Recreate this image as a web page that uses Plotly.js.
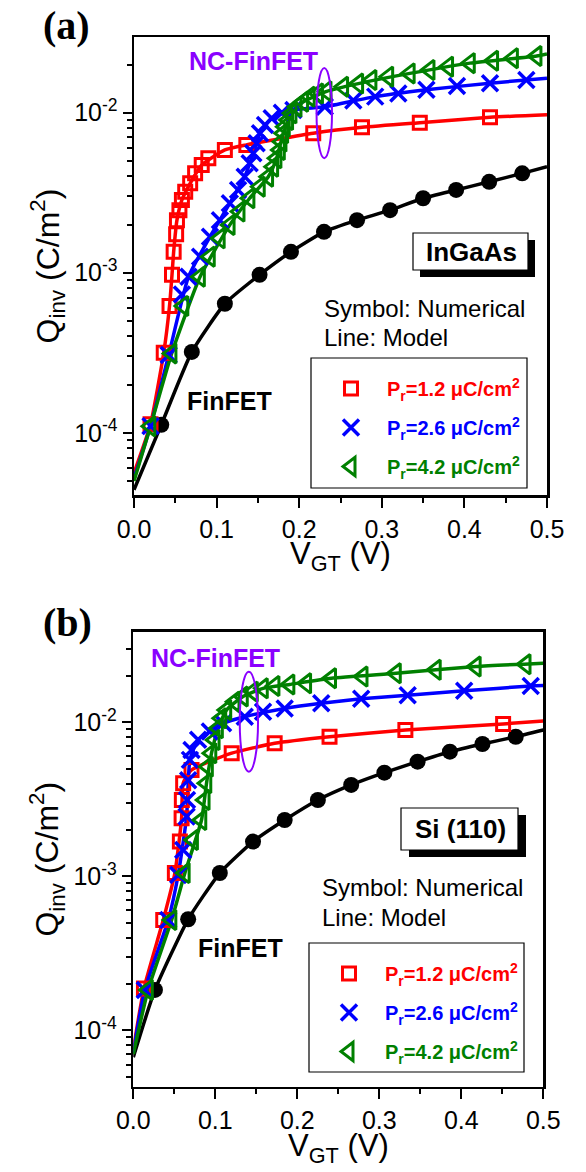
<!DOCTYPE html>
<html>
<head>
<meta charset="utf-8">
<script src="https://cdn.plot.ly/plotly-3.0.1.min.js"></script>
<style>html,body{margin:0;padding:0;background:#fff}#chart{width:586px;height:1172px}</style>
</head>
<body>
<div id="chart"></div>
<script>
// ---------------- DATA (panel a: InGaAs) ----------------
const aRedX = [0.02, 0.036, 0.043, 0.046, 0.048, 0.051, 0.052, 0.055, 0.058, 0.062, 0.068, 0.074, 0.082, 0.09, 0.11, 0.136, 0.217, 0.276, 0.346, 0.431];
const aRedY = [1.13e-4, 3.16e-4, 6.2e-4, 9.7e-4, 1.35e-3, 1.74e-3, 2.13e-3, 2.46e-3, 2.85e-3, 3.21e-3, 3.62e-3, 4.18e-3, 4.71e-3, 5.19e-3, 5.85e-3, 6.29e-3, 7.44e-3, 8.1e-3, 8.66e-3, 9.36e-3];
const aRedLineX = [0, 0.02, 0.036, 0.043, 0.046, 0.048, 0.052, 0.058, 0.068, 0.082, 0.11, 0.136, 0.217, 0.276, 0.346, 0.431, 0.5];
const aRedLineY = [5.6e-5, 1.13e-4, 3.16e-4, 6.2e-4, 9.7e-4, 1.35e-3, 2.13e-3, 2.85e-3, 3.62e-3, 4.71e-3, 5.85e-3, 6.29e-3, 7.44e-3, 8.1e-3, 8.66e-3, 9.36e-3, 9.7e-3];

const aBlueX = [0.02, 0.042, 0.058, 0.066, 0.08, 0.092, 0.104, 0.116, 0.126, 0.134, 0.14, 0.1445, 0.1485, 0.1525, 0.1586, 0.1667, 0.179, 0.193, 0.231, 0.2655, 0.292, 0.32, 0.354, 0.391, 0.431, 0.475];
const aBlueY = [1.1e-4, 3.06e-4, 7.3e-4, 9.44e-4, 1.26e-3, 1.68e-3, 2.13e-3, 2.72e-3, 3.29e-3, 3.98e-3, 4.83e-3, 5.58e-3, 6.44e-3, 7.44e-3, 8.38e-3, 9.23e-3, 1.0e-2, 1.04e-2, 1.09e-2, 1.19e-2, 1.26e-2, 1.32e-2, 1.39e-2, 1.47e-2, 1.53e-2, 1.6e-2];
const aBlueLineX = [0, 0.02, 0.042, 0.066, 0.092, 0.116, 0.134, 0.1445, 0.1525, 0.1667, 0.193, 0.231, 0.292, 0.354, 0.431, 0.5];
const aBlueLineY = [5.2e-5, 1.1e-4, 3.06e-4, 9.44e-4, 1.68e-3, 2.72e-3, 3.98e-3, 5.58e-3, 7.44e-3, 9.23e-3, 1.04e-2, 1.09e-2, 1.26e-2, 1.39e-2, 1.53e-2, 1.64e-2];

const aGreenX = [0.02, 0.0456, 0.06, 0.08, 0.092, 0.104, 0.116, 0.128, 0.14, 0.1525, 0.1626, 0.1687, 0.1727, 0.1768, 0.1788, 0.1808, 0.1828, 0.1868, 0.1909, 0.197, 0.205, 0.213, 0.223, 0.2333, 0.2534, 0.2716, 0.2877, 0.308, 0.334, 0.358, 0.3805, 0.4068, 0.435, 0.459, 0.4875];
const aGreenY = [1.1e-4, 3.13e-4, 6.2e-4, 9.44e-4, 1.26e-3, 1.64e-3, 1.99e-3, 2.41e-3, 2.92e-3, 3.45e-3, 3.98e-3, 4.6e-3, 5.19e-3, 5.85e-3, 6.59e-3, 7.44e-3, 8.18e-3, 9.0e-3, 9.91e-3, 1.09e-2, 1.17e-2, 1.26e-2, 1.32e-2, 1.36e-2, 1.45e-2, 1.52e-2, 1.6e-2, 1.68e-2, 1.76e-2, 1.85e-2, 1.94e-2, 2.04e-2, 2.11e-2, 2.19e-2, 2.26e-2];
const aGreenLineX = [0, 0.02, 0.0456, 0.08, 0.116, 0.14, 0.1626, 0.1727, 0.1808, 0.1909, 0.205, 0.2333, 0.2716, 0.334, 0.4068, 0.4875, 0.5];
const aGreenLineY = [5.0e-5, 1.1e-4, 3.13e-4, 9.44e-4, 1.99e-3, 2.92e-3, 3.98e-3, 5.19e-3, 7.44e-3, 9.91e-3, 1.17e-2, 1.36e-2, 1.52e-2, 1.76e-2, 2.04e-2, 2.26e-2, 2.33e-2];

const aBlackX = [0.033, 0.07, 0.11, 0.152, 0.19, 0.23, 0.27, 0.31, 0.35, 0.39, 0.43, 0.47];
const aBlackY = [1.12e-4, 3.2e-4, 6.4e-4, 9.7e-4, 1.35e-3, 1.8e-3, 2.13e-3, 2.46e-3, 2.92e-3, 3.29e-3, 3.7e-3, 4.18e-3];
const aBlackLineX = [0, 0.033, 0.07, 0.11, 0.152, 0.19, 0.23, 0.27, 0.31, 0.35, 0.39, 0.43, 0.47, 0.5];
const aBlackLineY = [4.4e-5, 1.12e-4, 3.2e-4, 6.4e-4, 9.7e-4, 1.35e-3, 1.8e-3, 2.13e-3, 2.46e-3, 2.92e-3, 3.29e-3, 3.7e-3, 4.18e-3, 4.6e-3];

// ---------------- DATA (panel b: Si (110)) ----------------
const bRedX = [0.013, 0.0365, 0.0507, 0.0568, 0.0589, 0.0592, 0.0608, 0.071, 0.12, 0.1724, 0.2393, 0.3318, 0.451];
const bRedY = [1.87e-4, 5.2e-4, 1.05e-3, 1.68e-3, 2.38e-3, 3.13e-3, 4.02e-3, 4.9e-3, 6.3e-3, 7.3e-3, 8.05e-3, 8.9e-3, 9.75e-3];
const bRedLineX = [0, 0.013, 0.0365, 0.0507, 0.0589, 0.0608, 0.071, 0.12, 0.1724, 0.2393, 0.3318, 0.451, 0.5];
const bRedLineY = [7.5e-5, 1.87e-4, 5.2e-4, 1.05e-3, 2.38e-3, 4.02e-3, 4.9e-3, 6.3e-3, 7.3e-3, 8.05e-3, 8.9e-3, 9.75e-3, 1.02e-2];

const bBlueX = [0.014, 0.0426, 0.0547, 0.0608, 0.065, 0.0655, 0.0669, 0.069, 0.071, 0.079, 0.0933, 0.1095, 0.1359, 0.1582, 0.1846, 0.2292, 0.2779, 0.3346, 0.4035, 0.4847];
const bBlueY = [1.83e-4, 5.2e-4, 1.02e-3, 1.48e-3, 2.44e-3, 3.13e-3, 4.2e-3, 5.7e-3, 6.6e-3, 7.7e-3, 8.7e-3, 9.86e-3, 1.087e-2, 1.17e-2, 1.23e-2, 1.33e-2, 1.42e-2, 1.5e-2, 1.6e-2, 1.72e-2];
const bBlueLineX = [0, 0.014, 0.0426, 0.0547, 0.065, 0.069, 0.079, 0.0933, 0.1095, 0.1359, 0.1846, 0.2292, 0.2779, 0.3346, 0.4035, 0.4847, 0.5];
const bBlueLineY = [7.2e-5, 1.83e-4, 5.2e-4, 1.02e-3, 2.44e-3, 5.7e-3, 7.7e-3, 8.7e-3, 9.86e-3, 1.087e-2, 1.23e-2, 1.33e-2, 1.42e-2, 1.5e-2, 1.6e-2, 1.72e-2, 1.73e-2];

const bGreenX = [0.018, 0.0467, 0.0629, 0.073, 0.0832, 0.0872, 0.0893, 0.0912, 0.0954, 0.0994, 0.1034, 0.1075, 0.1136, 0.1237, 0.1338, 0.146, 0.1582, 0.1724, 0.1906, 0.211, 0.2414, 0.2798, 0.3204, 0.3691, 0.4178, 0.4786];
const bGreenY = [1.83e-4, 5.2e-4, 1.05e-3, 1.72e-3, 2.32e-3, 3.13e-3, 4.02e-3, 5.15e-3, 6.3e-3, 7.68e-3, 9.14e-3, 1.06e-2, 1.2e-2, 1.36e-2, 1.47e-2, 1.58e-2, 1.66e-2, 1.72e-2, 1.76e-2, 1.79e-2, 1.93e-2, 1.98e-2, 2.08e-2, 2.19e-2, 2.3e-2, 2.38e-2];
const bGreenLineX = [0, 0.018, 0.0467, 0.0629, 0.0832, 0.0893, 0.0954, 0.1034, 0.1136, 0.1338, 0.1582, 0.1906, 0.2414, 0.3204, 0.4178, 0.5];
const bGreenLineY = [7.0e-5, 1.83e-4, 5.2e-4, 1.05e-3, 2.32e-3, 4.02e-3, 6.3e-3, 9.14e-3, 1.2e-2, 1.47e-2, 1.66e-2, 1.76e-2, 1.93e-2, 2.08e-2, 2.3e-2, 2.42e-2];

const bBlackX = [0.0264, 0.0669, 0.1055, 0.146, 0.1846, 0.2251, 0.2657, 0.3062, 0.3467, 0.3861, 0.4258, 0.4664];
const bBlackY = [1.83e-4, 5.26e-4, 1.05e-3, 1.68e-3, 2.32e-3, 3.13e-3, 3.92e-3, 4.71e-3, 5.55e-3, 6.44e-3, 7.23e-3, 8.05e-3];
const bBlackLineX = [0, 0.0264, 0.0669, 0.1055, 0.146, 0.1846, 0.2251, 0.2657, 0.3062, 0.3467, 0.3861, 0.4258, 0.4664, 0.5];
const bBlackLineY = [6.7e-5, 1.83e-4, 5.26e-4, 1.05e-3, 1.68e-3, 2.32e-3, 3.13e-3, 3.92e-3, 4.71e-3, 5.55e-3, 6.44e-3, 7.23e-3, 8.05e-3, 8.9e-3];

// NC-FinFET ellipse extents (data units)
const aEllipseX = [0.221, 0.2397], aEllipseY = [5.2e-3, 1.9e-2];
const bEllipseX = [0.1298, 0.1521], bEllipseY = [4.78e-3, 2.13e-2];

// ---------------- LABELS ----------------
const seriesNames = ['P<sub>r</sub>=1.2 \u03bcC/cm<sup>2</sup>', 'P<sub>r</sub>=2.6 \u03bcC/cm<sup>2</sup>', 'P<sub>r</sub>=4.2 \u03bcC/cm<sup>2</sup>'];
const yTickVals = [1e-4, 1e-3, 1e-2];
const yTickText = ['10<sup>-4</sup>', '10<sup>-3</sup>', '10<sup>-2</sup>'];
const yMinorVals = [5e-5,6e-5,7e-5,8e-5,9e-5,2e-4,3e-4,4e-4,5e-4,6e-4,7e-4,8e-4,9e-4,2e-3,3e-3,4e-3,5e-3,6e-3,7e-3,8e-3,9e-3,2e-2,3e-2];
const xTitle = 'V<sub>GT</sub> (V)';
const yTitle = 'Q<sub>inv</sub> (C/m<sup>2</sup>)';

// ---------------- STYLE ----------------
const W = 586, H = 1172;
const FONT = 'Liberation Sans, Arial, sans-serif';
const RED = '#ff0000', BLUE = '#0000ff', GREEN = '#008000', PURPLE = '#8a00ff';
const px = v => v / W, py = v => 1 - v / H;

function lineTrace(x, y, color, ax, ay) {
  return {x, y, xaxis: ax, yaxis: ay, mode: 'lines', type: 'scatter', showlegend: false, hoverinfo: 'skip',
    line: {color, width: 3.5, shape: 'spline', smoothing: 0.5}};
}
function markTrace(x, y, color, symbol, size, lw, ax, ay, name, legend, group) {
  const t = {x, y, xaxis: ax, yaxis: ay, mode: 'markers', type: 'scatter', name,
    marker: {symbol, size, color, line: {color, width: lw}}};
  if (legend) { t.legend = legend; t.legendgroup = group; } else { t.showlegend = false; }
  return t;
}
function colorName(n, c) { return '<span style="color:' + c + '"><b>' + n + '</b></span>'; }

const data = [
  lineTrace(aBlackLineX, aBlackLineY, 'black', 'x', 'y'),
  markTrace(aBlackX, aBlackY, 'black', 'circle', 16, 0, 'x', 'y', 'FinFET', null),
  lineTrace(aRedLineX, aRedLineY, RED, 'x', 'y'),
  lineTrace(aBlueLineX, aBlueLineY, BLUE, 'x', 'y'),
  lineTrace(aGreenLineX, aGreenLineY, GREEN, 'x', 'y'),
  markTrace(aRedX, aRedY, RED, 'square-open', 13, 3, 'x', 'y', colorName(seriesNames[0], RED), 'legend', 'a1'),
  markTrace(aBlueX, aBlueY, BLUE, 'x-thin-open', 16, 3.5, 'x', 'y', colorName(seriesNames[1], BLUE), 'legend', 'a2'),
  markTrace(aGreenX, aGreenY, GREEN, 'triangle-left-open', 17, 3, 'x', 'y', colorName(seriesNames[2], GREEN), 'legend', 'a3'),

  lineTrace(bBlackLineX, bBlackLineY, 'black', 'x2', 'y2'),
  markTrace(bBlackX, bBlackY, 'black', 'circle', 16, 0, 'x2', 'y2', 'FinFET', null),
  lineTrace(bRedLineX, bRedLineY, RED, 'x2', 'y2'),
  lineTrace(bBlueLineX, bBlueLineY, BLUE, 'x2', 'y2'),
  lineTrace(bGreenLineX, bGreenLineY, GREEN, 'x2', 'y2'),
  markTrace(bRedX, bRedY, RED, 'square-open', 13, 3, 'x2', 'y2', colorName(seriesNames[0], RED), 'legend2', 'b1'),
  markTrace(bBlueX, bBlueY, BLUE, 'x-thin-open', 16, 3.5, 'x2', 'y2', colorName(seriesNames[1], BLUE), 'legend2', 'b2'),
  markTrace(bGreenX, bGreenY, GREEN, 'triangle-left-open', 17, 3, 'x2', 'y2', colorName(seriesNames[2], GREEN), 'legend2', 'b3')
];

function xAxis(domain, anchor) {
  return {domain, anchor, range: [0, 0.5], dtick: 0.1, tick0: 0, tickformat: '.1f',
    showline: true, mirror: true, linecolor: 'black', linewidth: 2.5, showgrid: false, zeroline: false,
    ticks: 'outside', ticklen: 10, tickwidth: 2, tickcolor: 'black',
    minor: {dtick: 0.05, tick0: 0, ticks: 'outside', ticklen: 5, tickwidth: 2, tickcolor: 'black', showgrid: false},
    tickfont: {family: FONT, size: 25, color: 'black'},
    title: {text: ''}};
}
function yAxis(domain, anchor, range) {
  return {domain, anchor, type: 'log', range,
    tickmode: 'array', tickvals: yTickVals, ticktext: yTickText,
    showline: true, mirror: true, linecolor: 'black', linewidth: 2.5, showgrid: false, zeroline: false,
    ticks: 'outside', ticklen: 9, tickwidth: 2, tickcolor: 'black',
    minor: {tickmode: 'array', tickvals: yMinorVals, ticks: 'outside', ticklen: 5, tickwidth: 2, tickcolor: 'black', showgrid: false},
    tickfont: {family: FONT, size: 25, color: 'black'},
    title: {text: yTitle, font: {family: FONT, size: 32, color: 'black'}}};
}

function textAnn(text, x, y, size, color, bold, xanchor, family) {
  return {text: bold ? '<b>' + text + '</b>' : text, x: px(x), y: py(y), xref: 'paper', yref: 'paper',
    showarrow: false, xanchor: xanchor || 'center', yanchor: 'middle',
    font: {family: family || FONT, size, color}};
}

const SERIF = 'Liberation Serif, Times New Roman, serif';
const annotations = [
  textAnn('(a)', 66, 25, 40, 'black', true, 'center', SERIF),
  textAnn('NC-FinFET', 253, 61, 25, PURPLE, true),
  textAnn('InGaAs', 471, 252, 26, 'black', true),
  textAnn('Symbol: Numerical', 322, 308, 24, 'black', false, 'left'),
  textAnn('Line: Model', 322, 337, 24, 'black', false, 'left'),
  textAnn('FinFET', 229, 401, 25, 'black', true),
  textAnn(xTitle, 340.5, 556, 31, 'black', false),

  textAnn('(b)', 67, 622, 40, 'black', true, 'center', SERIF),
  textAnn('NC-FinFET', 215, 658, 25, PURPLE, true),
  textAnn('Si (110)', 460, 829, 26, 'black', true),
  textAnn('Symbol: Numerical', 320, 887, 24, 'black', false, 'left'),
  textAnn('Line: Model', 320, 917, 24, 'black', false, 'left'),
  textAnn('FinFET', 240, 948, 25, 'black', true),
  textAnn(xTitle, 338.3, 1148, 31, 'black', false)
];

function rect(x0, y0, x1, y1, fill, lw) {
  return {type: 'rect', xref: 'paper', yref: 'paper', x0: px(x0), x1: px(x1), y0: py(y1), y1: py(y0),
    fillcolor: fill, line: {color: 'black', width: lw}, layer: 'above'};
}
const shapes = [
  rect(420, 240, 535, 277, 'black', 0),
  rect(413, 233, 528, 270, 'white', 1.2),
  rect(409, 815, 526, 857, 'black', 0),
  rect(401, 808, 518, 850, 'white', 1.2),
  rect(311, 358, 527, 488, 'rgba(0,0,0,0)', 1.2),
  rect(309, 943, 524, 1072, 'rgba(0,0,0,0)', 1.2),
  {type: 'circle', xref: 'x', yref: 'y', x0: aEllipseX[0], x1: aEllipseX[1], y0: aEllipseY[0], y1: aEllipseY[1],
   line: {color: PURPLE, width: 2}, layer: 'above'},
  {type: 'circle', xref: 'x2', yref: 'y2', x0: bEllipseX[0], x1: bEllipseX[1], y0: bEllipseY[0], y1: bEllipseY[1],
   line: {color: PURPLE, width: 2}, layer: 'above'}
];

function legendBox(x, y) {
  return {x: px(x), y: py(y), xanchor: 'left', yanchor: 'top', bgcolor: 'rgba(0,0,0,0)', borderwidth: 0,
    font: {family: FONT, size: 20, color: 'black'}, traceorder: 'grouped', tracegroupgap: 10, itemwidth: 62,
    itemclick: false, itemdoubleclick: false};
}

const layout = {
  width: W, height: H, margin: {l: 0, r: 0, t: 0, b: 0}, paper_bgcolor: 'white', plot_bgcolor: 'white',
  font: {family: FONT, color: 'black'},
  xaxis: xAxis([px(134), px(547)], 'y'),
  yaxis: yAxis([py(495), py(37)], 'x', [-4.389, -1.527]),
  xaxis2: xAxis([px(133.3), px(543.3)], 'y2'),
  yaxis2: yAxis([py(1086.7), py(631.7)], 'x2', [-4.366, -1.412]),
  legend: legendBox(315, 369),
  legend2: legendBox(313, 954),
  annotations, shapes
};

Plotly.newPlot('chart', data, layout, {displayModeBar: false, staticPlot: true});
</script>
</body>
</html>
